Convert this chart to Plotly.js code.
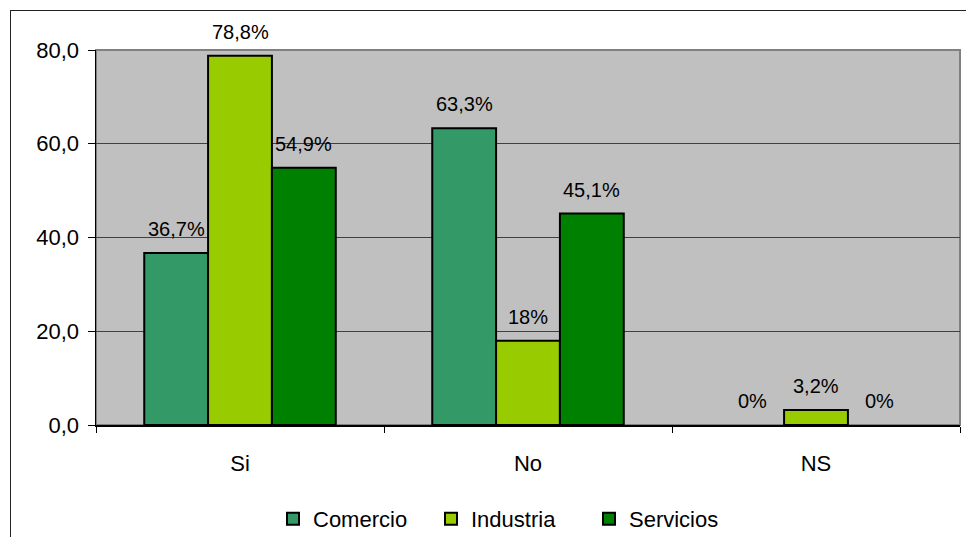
<!DOCTYPE html>
<html>
<head>
<meta charset="utf-8">
<script src="https://cdn.plot.ly/plotly-3.0.1.min.js"></script>
<style>
  html, body { margin: 0; padding: 0; background: #ffffff; overflow: hidden; }
  #chart { width: 966px; height: 537px; }
  #frame { position: absolute; left: 10px; top: 10px; width: 1200px; height: 800px;
           border-left: 1.5px solid #222; border-top: 1.5px solid #222; pointer-events: none; }
</style>
</head>
<body>
<div id="chart"></div>
<div id="frame"></div>
<script>
const categories = ["Si", "No", "NS"];
const seriesNames = ["Comercio", "Industria", "Servicios"];
const comercio = [36.7, 63.3, 0];
const industria = [78.8, 18, 3.2];
const servicios = [54.9, 45.1, 0];
const seriesColors = ["#339966", "#99CC00", "#008000"];
const yTicks = [0, 20, 40, 60, 80];

const seriesValues = [comercio, industria, servicios];
const FONT = "Liberation Sans, Arial, sans-serif";

function fmt(v) { return String(v).replace(".", ",") + "%"; }

const traces = seriesValues.map((vals, i) => ({
  type: "bar",
  name: seriesNames[i],
  x: categories,
  y: vals,
  marker: {
    color: seriesColors[i],
    line: { color: "#000000", width: vals.map(v => (v === 0 ? 0 : 2)) }
  },
  hoverinfo: "skip"
}));

const plotW = 966 - 96 - 6;
const bargap = 0.335;
const barPx = plotW / categories.length * (1 - bargap) / seriesValues.length;

const annotations = [];
seriesValues.forEach((vals, i) => {
  vals.forEach((v, j) => {
    annotations.push({
      x: categories[j], y: v, xref: "x", yref: "y",
      text: fmt(v), showarrow: false,
      xshift: (i - 1) * barPx, yshift: 24,
      font: { family: FONT, size: 20, color: "#000000" }
    });
  });
});

const layout = {
  width: 966, height: 537,
  margin: { l: 96, r: 6, t: 50, b: 112, pad: 0 },
  paper_bgcolor: "#ffffff",
  plot_bgcolor: "#C0C0C0",
  barmode: "group",
  bargap: bargap,
  bargroupgap: 0,
  font: { family: FONT, size: 22, color: "#000000" },
  xaxis: {
    type: "category",
    automargin: false,
    showline: true, linecolor: "#000000", linewidth: 1.5,
    ticks: "outside", tickson: "boundaries", ticklen: 6, tickcolor: "#000000", tickwidth: 1,
    ticklabelstandoff: 18,
    showgrid: false, zeroline: false,
    tickfont: { family: FONT, size: 22, color: "#000000" }
  },
  yaxis: {
    range: [0, 80],
    automargin: false,
    tickvals: yTicks,
    tickformat: ".1f",
    showline: true, linecolor: "#000000", linewidth: 1.5,
    ticks: "outside", ticklen: 7, tickcolor: "#000000", tickwidth: 1,
    ticklabelstandoff: 4,
    showgrid: true, gridcolor: "#404040", gridwidth: 1,
    zeroline: false,
    tickfont: { family: FONT, size: 22, color: "#000000" }
  },
  separators: ",.",
  shapes: [{
    type: "rect", xref: "paper", yref: "paper", x0: 0, x1: 1, y0: 0, y1: 1,
    line: { color: "#808080", width: 2 }, layer: "below"
  }],
  annotations: annotations,
  showlegend: true,
  legend: {
    orientation: "h",
    xref: "container", yref: "container",
    x: 273 / 966, xanchor: "left",
    y: 1 - 519 / 537, yanchor: "middle",
    entrywidth: 113, entrywidthmode: "pixels",
    font: { family: FONT, size: 22, color: "#000000" },
    bgcolor: "rgba(0,0,0,0)"
  }
};

Plotly.newPlot("chart", traces, layout, { displayModeBar: false, staticPlot: true });
</script>
</body>
</html>
